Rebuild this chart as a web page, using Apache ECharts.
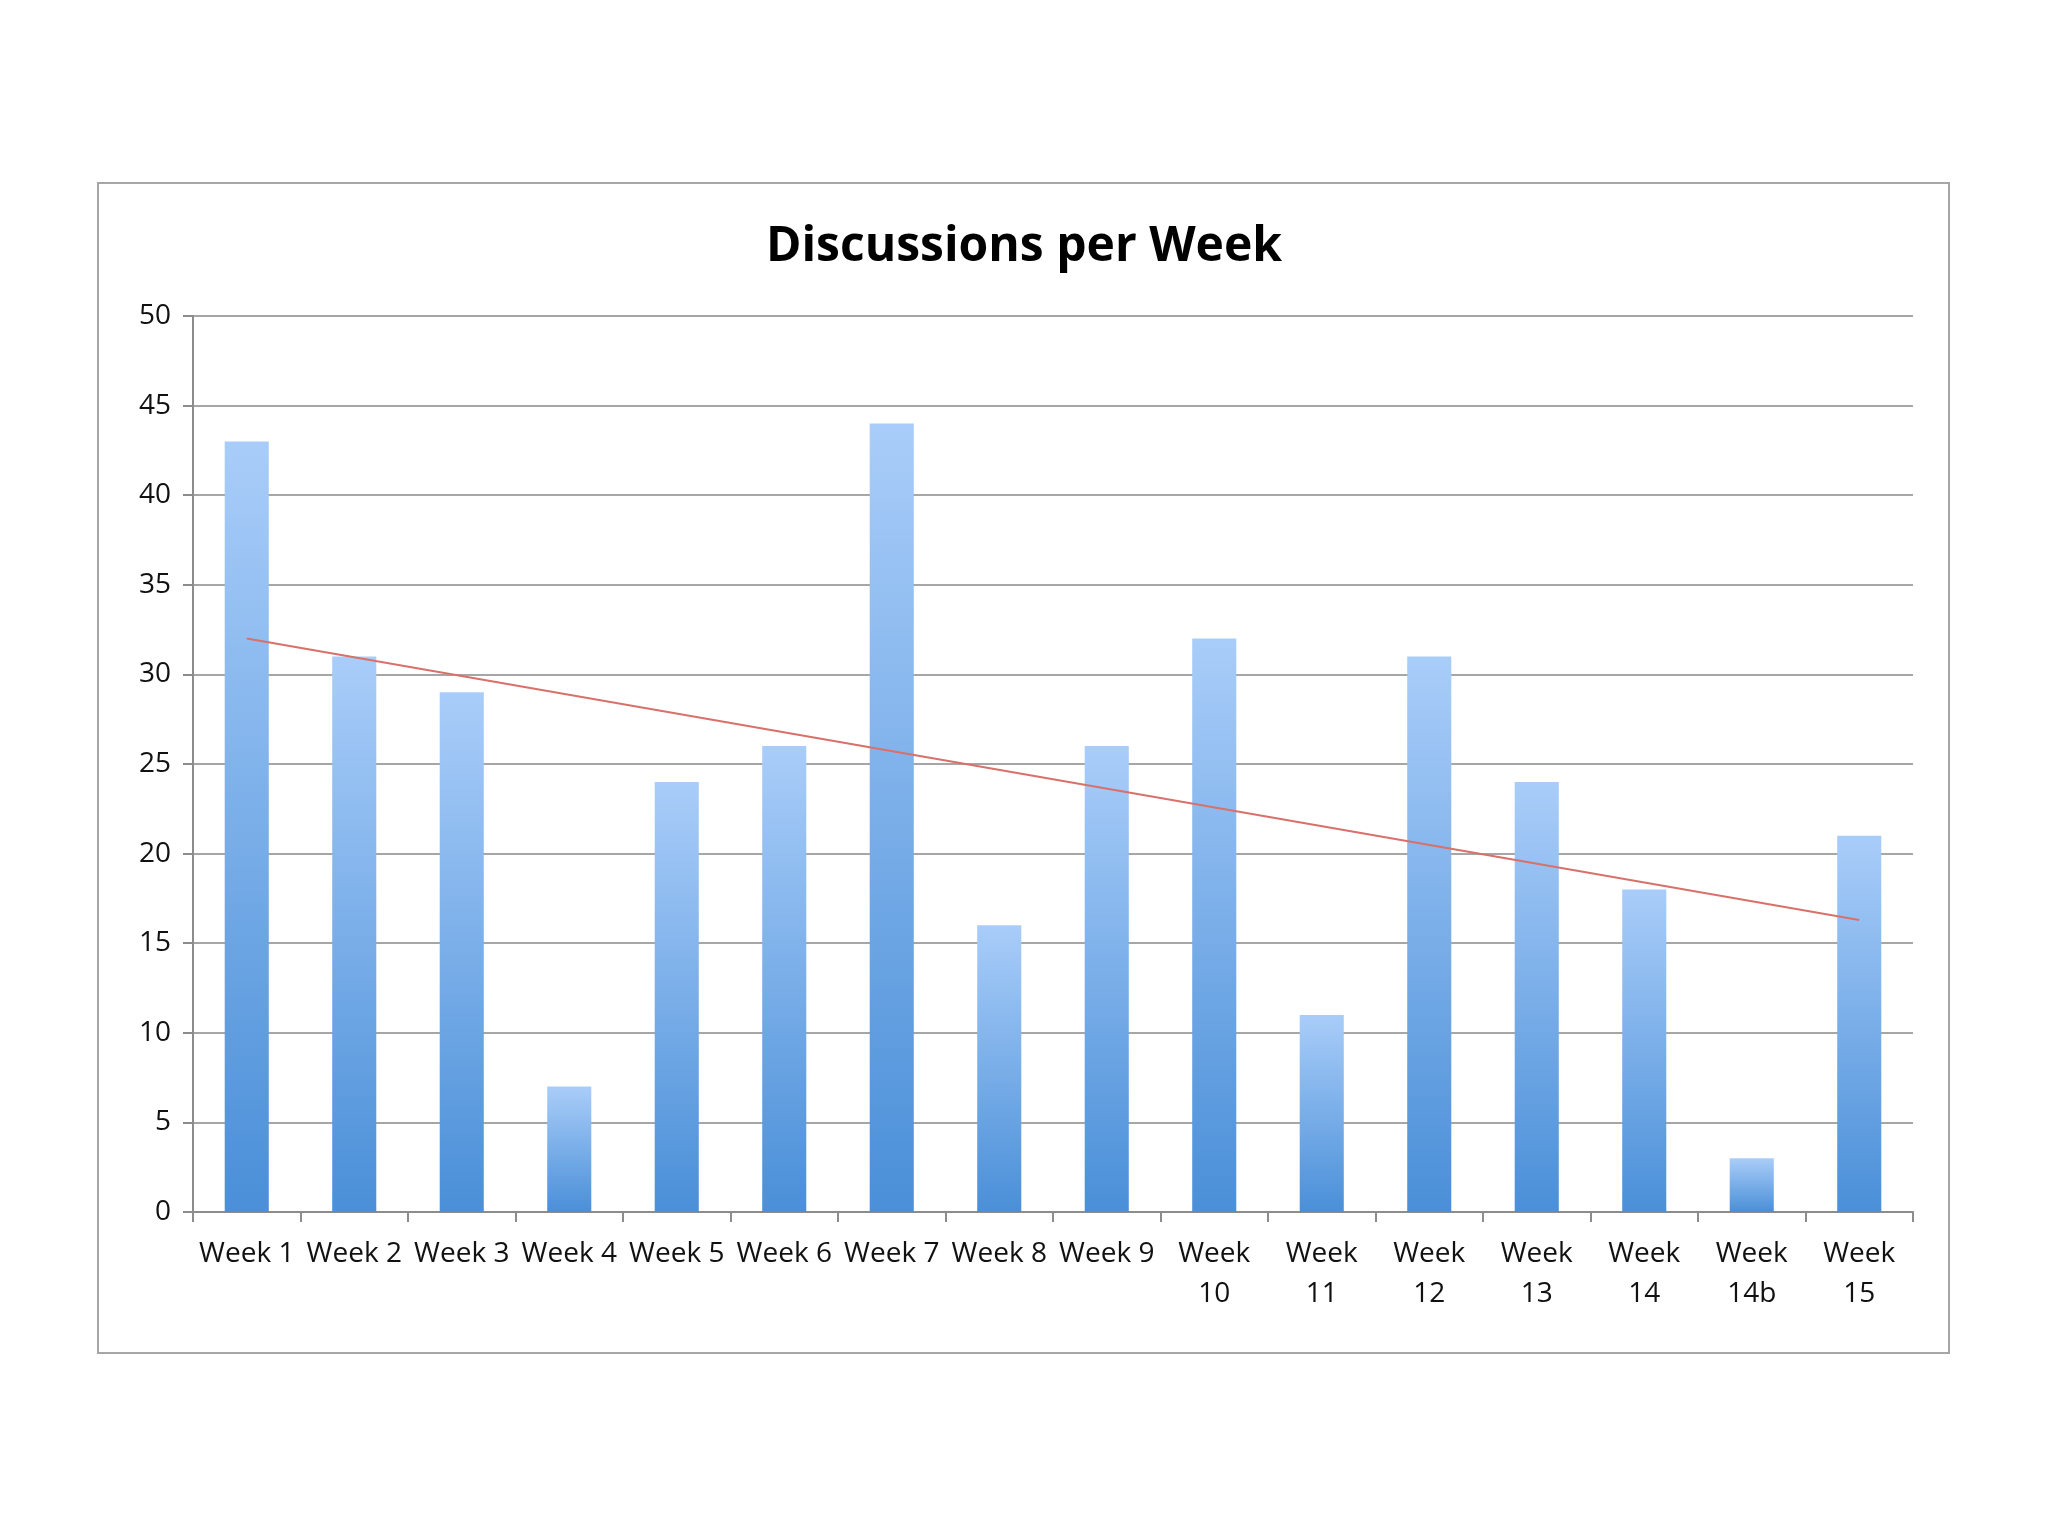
<!DOCTYPE html>
<html><head><meta charset="utf-8">
<script src="https://cdn.jsdelivr.net/npm/echarts@6/dist/echarts.min.js"></script>
<style>html,body{margin:0;background:#fff}#c{width:2048px;height:1536px}</style>
</head><body><div id="c"></div>
<script>
const categories = ['Week 1','Week 2','Week 3','Week 4','Week 5','Week 6','Week 7','Week 8','Week 9','Week 10','Week 11','Week 12','Week 13','Week 14','Week 14b','Week 15'];
const discussions = [43,31,29,7,24,26,44,16,26,32,11,31,24,18,3,21];
const trendStart = ['Week 1', 32];
const trendEnd = ['Week 15', 16.3];
const yTicks = {min:0, max:50, interval:5};

const chart = echarts.init(document.getElementById('c'));
chart.setOption({
  animation:false,
  backgroundColor:'#fff',
  graphic:[{type:'rect',shape:{x:98,y:183,width:1851,height:1170},style:{fill:'none',stroke:'#a6a6a6',lineWidth:2}}],
  title:{text:'Discussions per Week',left:'center',top:218,textStyle:{fontFamily:'Open Sans',fontWeight:'bold',fontSize:48,color:'#000'}},
  grid:{left:193,right:135,top:316,bottom:324},
  xAxis:{type:'category',data:categories,
    axisLine:{lineStyle:{color:'#8c8c8c',width:2}},
    axisTick:{show:true,length:10,lineStyle:{color:'#8c8c8c',width:2}},
    axisLabel:{interval:0,margin:22,fontFamily:'Open Sans',fontSize:28,color:'#111',lineHeight:40,
      formatter:v=>v.length>6?v.replace(' ','\n'):v}},
  yAxis:{type:'value',min:yTicks.min,max:yTicks.max,interval:yTicks.interval,
    axisLine:{show:true,lineStyle:{color:'#8c8c8c',width:2}},
    axisTick:{show:true,length:10,lineStyle:{color:'#8c8c8c',width:2}},
    splitLine:{lineStyle:{color:'#a6a6a6',width:2}},
    axisLabel:{margin:22,fontFamily:'Open Sans',fontSize:28,color:'#111'}},
  series:[{type:'bar',data:discussions,barWidth:'41%',
    itemStyle:{color:new echarts.graphic.LinearGradient(0,0,0,1,[{offset:0,color:'#a9cdf9'},{offset:1,color:'#4a8fd8'}])},
    markLine:{symbol:'none',silent:true,label:{show:false},
      lineStyle:{color:'#d9706a',width:2,type:'solid'},
      data:[[{coord:trendStart},{coord:trendEnd}]]}}]
});
</script></body></html>
